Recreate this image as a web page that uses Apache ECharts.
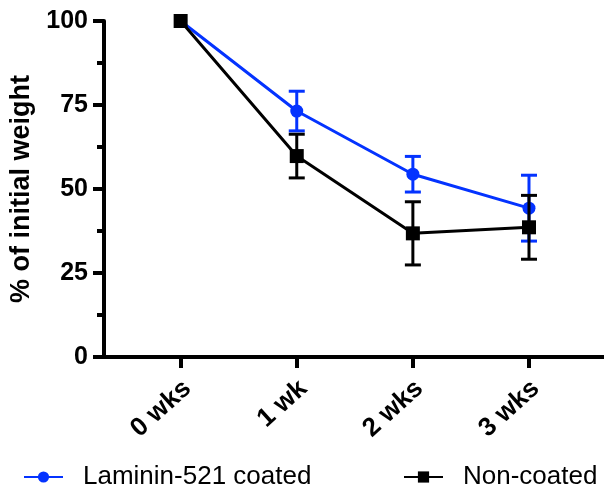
<!DOCTYPE html>
<html>
<head>
<meta charset="utf-8">
<script src="https://cdn.jsdelivr.net/npm/echarts@6/dist/echarts.min.js"></script>
<style>html,body{margin:0;padding:0;background:#fff}#c{width:604px;height:491px}</style>
</head>
<body>
<div id="c"></div>
<script>
const categories = ['0 wks', '1 wk', '2 wks', '3 wks'];
const lamininMean = [100, 73.2, 54.4, 44.3];
const lamininErr = [0, 5.9, 5.3, 9.8];
const nonCoatedMean = [100, 59.8, 36.8, 38.6];
const nonCoatedErr = [0, 6.5, 9.4, 9.5];
const yTicks = [0, 25, 50, 75, 100];

const BLUE = '#0433ff';
const BLACK = '#000000';
const FONT = "'Liberation Sans', Arial, Helvetica, sans-serif";

function pts(arr) { return arr.map((v, i) => [i, v]); }
function errData(mean, err) { return mean.map((v, i) => [i, v - err[i], v + err[i]]); }

function errSeries(name, mean, err, color, z) {
  return {
    type: 'custom',
    name: name,
    data: errData(mean, err),
    z: z,
    renderItem: function (params, api) {
      const x = api.value(0), lo = api.value(1), hi = api.value(2);
      if (hi - lo <= 0) return null;
      const p1 = api.coord([x, lo]);
      const p2 = api.coord([x, hi]);
      const hw = 8;
      const st = { stroke: color, lineWidth: 3 };
      return {
        type: 'group',
        children: [
          { type: 'line', shape: { x1: p1[0], y1: p1[1], x2: p2[0], y2: p2[1] }, style: st },
          { type: 'line', shape: { x1: p1[0] - hw, y1: p1[1], x2: p1[0] + hw, y2: p1[1] }, style: st },
          { type: 'line', shape: { x1: p2[0] - hw, y1: p2[1], x2: p2[0] + hw, y2: p2[1] }, style: st }
        ]
      };
    }
  };
}

const chart = echarts.init(document.getElementById('c'), null, { renderer: 'canvas' });
chart.setOption({
  animation: false,
  backgroundColor: '#ffffff',
  grid: { left: 104, right: 0, top: 21, bottom: 134, containLabel: false },
  xAxis: {
    type: 'value',
    min: -0.66,
    max: 3.646,
    splitLine: { show: false },
    axisLine: { show: true, onZero: false, lineStyle: { color: '#000', width: 4 } },
    axisTick: { show: true, customValues: categories.map((c, i) => i), length: 11, lineStyle: { color: '#000', width: 4 } },
    axisLabel: {
      customValues: categories.map((c, i) => i),
      formatter: function (v) { return categories[Math.round(v)]; },
      rotate: 42,
      margin: 34,
      padding: [0, -9, 0, 0],
      color: '#000',
      fontFamily: FONT,
      fontWeight: 'bold',
      fontSize: 26
    }
  },
  yAxis: [
    {
      type: 'value',
      min: 0,
      max: 100,
      interval: 25,
      name: '% of initial weight',
      nameLocation: 'middle',
      nameRotate: 90,
      nameGap: 67,
      nameTextStyle: { color: '#000', fontFamily: FONT, fontWeight: 'bold', fontSize: 27 },
      splitLine: { show: false },
      axisLine: { show: true, onZero: false, lineStyle: { color: '#000', width: 4 } },
      axisTick: { show: true, length: 11, lineStyle: { color: '#000', width: 4 } },
      axisLabel: {
        customValues: yTicks,
        margin: 16,
        color: '#000',
        fontFamily: FONT,
        fontWeight: 'bold',
        fontSize: 25
      },
      z: 3
    },
    {
      type: 'value',
      position: 'left',
      offset: 0,
      min: 0,
      max: 100,
      interval: 12.5,
      splitLine: { show: false },
      axisLine: { show: false, onZero: false },
      axisTick: { show: true, length: 7, lineStyle: { color: '#000', width: 4 } },
      axisLabel: { show: false },
      z: 2
    }
  ],
  legend: [
    {
      data: ['Laminin-521 coated'],
      left: 18, top: 459,
      itemWidth: 39, itemHeight: 14,
      textStyle: { color: '#000', fontFamily: FONT, fontSize: 26, padding: [0, 0, 0, 15] }
    },
    {
      data: ['Non-coated'],
      left: 398, top: 459,
      itemWidth: 39, itemHeight: 14,
      textStyle: { color: '#000', fontFamily: FONT, fontSize: 26, padding: [0, 0, 0, 15] }
    }
  ],
  series: [
    {
      name: 'Laminin-521 coated',
      type: 'line',
      data: pts(lamininMean),
      symbol: 'circle',
      symbolSize: 13,
      itemStyle: { color: BLUE },
      lineStyle: { color: BLUE, width: 3 },
      z: 2
    },
    errSeries('Laminin-521 coated', lamininMean, lamininErr, BLUE, 3),
    {
      name: 'Non-coated',
      type: 'line',
      data: pts(nonCoatedMean),
      symbol: 'rect',
      symbolSize: 14,
      itemStyle: { color: BLACK },
      lineStyle: { color: BLACK, width: 3 },
      z: 4
    },
    errSeries('Non-coated', nonCoatedMean, nonCoatedErr, BLACK, 5)
  ]
});
</script>
</body>
</html>
